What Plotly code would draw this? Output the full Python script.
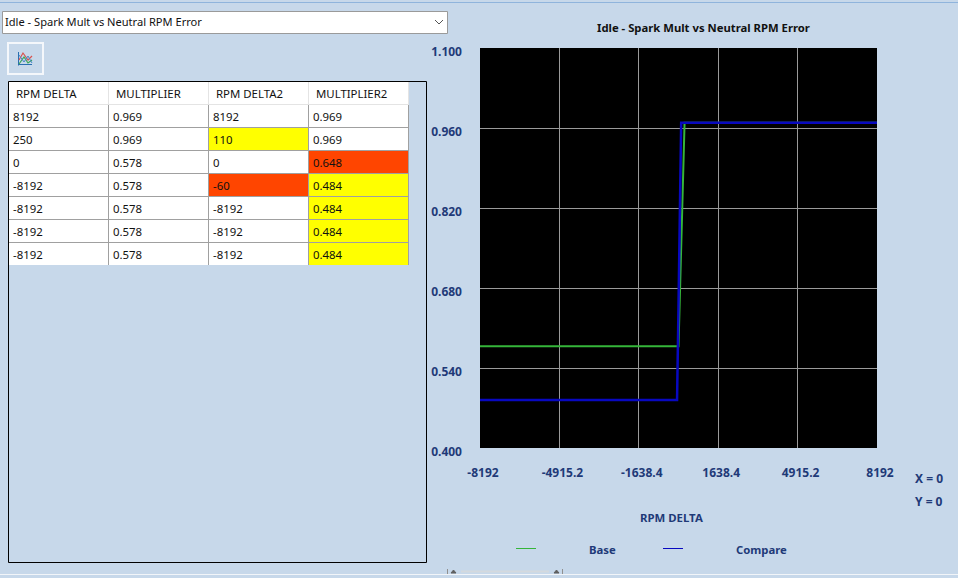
"""Idle spark multiplier table and chart, tuner window style."""

import plotly.graph_objects as go

W = 958
H = 578
BG = "#c7d8ea"
NAVY = "#1f3a78"
FONT = "Noto Sans"

TITLE = "Idle - Spark Mult vs Neutral RPM Error"

# table columns, as listed on screen
table_headers = ["RPM DELTA", "MULTIPLIER", "RPM DELTA2", "MULTIPLIER2"]
rpm_delta = ["8192", "250", "0", "-8192", "-8192", "-8192", "-8192"]
multiplier = ["0.969", "0.969", "0.578", "0.578", "0.578", "0.578", "0.578"]
rpm_delta2 = ["8192", "110", "0", "-60", "-8192", "-8192", "-8192"]
multiplier2 = ["0.969", "0.969", "0.648", "0.484", "0.484", "0.484", "0.484"]

# cell highlight per column
rpm_delta2_fill = ["white", "#ffff00", "white", "#ff4500", "white", "white", "white"]
multiplier2_fill = ["white", "white", "#ff4500", "#ffff00", "#ffff00", "#ffff00", "#ffff00"]

# chart series
base_x = [-8192, 0, 250, 8192]
base_y = [0.578, 0.578, 0.969, 0.969]
compare_x = [-8192, -60, 0, 110, 8192]
compare_y = [0.484, 0.484, 0.648, 0.969, 0.969]

x_ticks = [-8192, -4915.2, -1638.4, 1638.4, 4915.2, 8192]
y_ticks = [0.4, 0.54, 0.68, 0.82, 0.96, 1.1]


def px(x):
    return x / W


def py(y):
    return 1 - y / H


def box(x0, y0, x1, y1, layer="below", **kw):
    return dict(type="rect", xref="paper", yref="paper", x0=px(x0), x1=px(x1),
                y0=py(y1), y1=py(y0), layer=layer, **kw)


def seg(x0, y0, x1, y1, color, width=1):
    return dict(type="line", xref="paper", yref="paper", x0=px(x0), x1=px(x1),
                y0=py(y0), y1=py(y1), line=dict(color=color, width=width))


def poly(points, color, width=1, fill=None):
    path = "M " + " L ".join(f"{px(x)} {py(y)}" for x, y in points)
    if fill:
        path += " Z"
    return dict(type="path", xref="paper", yref="paper", path=path,
                line=dict(color=color, width=width), fillcolor=fill)


def label(x, y, text, size=12, color=NAVY, bold=True, anchor="left"):
    return dict(xref="paper", yref="paper", x=px(x), y=py(y), text=f"<b>{text}</b>" if bold else text,
                showarrow=False, xanchor=anchor, yanchor="middle",
                font=dict(family=FONT, size=size, color=color))


fig = go.Figure()

# the body text goes on as annotations, the table pads its cells too far in
fig.add_trace(go.Table(
    domain=dict(x=[px(8), px(408)], y=[py(265), py(81)]),
    columnwidth=[1, 1, 1, 1],
    header=dict(values=table_headers, height=23, align="left",
                fill_color="white", line=dict(color="#e4e4e4", width=1),
                font=dict(family=FONT, size=11.4, color="#111111")),
    cells=dict(values=[[""] * 7] * 4, height=23, align="left",
               fill_color=[["white"] * 7, ["white"] * 7, rpm_delta2_fill, multiplier2_fill],
               line=dict(color="#a0a0a0", width=1)),
))

fig.add_trace(go.Scatter(x=base_x, y=base_y, mode="lines", name="Base",
                         line=dict(color="#35b53a", width=2), showlegend=False))
fig.add_trace(go.Scatter(x=compare_x, y=compare_y, mode="lines", name="Compare",
                         line=dict(color="#0808c0", width=2.5), showlegend=False))

axis_font = dict(family=FONT, size=12, color=NAVY, weight="bold")

shapes = [
    seg(0, 2.5, W, 2.5, "#8fb4dc"),
    seg(0, 574.5, W, 574.5, "#f2f5f9"),
    # combo box
    box(2.5, 11.5, 447.5, 33.5, fillcolor="white", line=dict(color="#9a9a9a", width=1)),
    poly([(435, 20), (439, 24), (443, 20)], "#555555"),
    # toolbar button
    box(8, 43, 43, 74, fillcolor=BG, line=dict(color="#f4f7fb", width=2)),
    seg(18.5, 52, 18.5, 65.5, "#2a6fb0"),
    seg(18.5, 64.5, 32, 64.5, "#2a6fb0"),
    poly([(19, 60), (23, 53), (28, 60), (32, 56)], "#d9534f", 1.2),
    poly([(19, 64), (24, 57), (28, 63), (32, 60)], "#3aa655", 1.2),
    poly([(19, 55), (24, 62), (28, 56), (32, 63)], "#4a86c8", 1),
    # table frame, above so the table does not hide it
    box(8.5, 81.5, 426.5, 562.5, layer="above", line=dict(color="black", width=1)),
    # legend samples
    seg(516, 548.5, 536, 548.5, "#35b53a"),
    seg(663, 548.5, 683, 548.5, "#0808c0"),
    # bottom scroll bar
    seg(447.5, 569, 447.5, 574, "#909090"),
    seg(461, 571.5, 549, 571.5, "#d4d9de", 2),
    seg(562.5, 569, 562.5, 574, "#909090"),
    poly([(451, 573), (453.5, 570), (456, 573)], "#606060", 1, "#606060"),
    poly([(554, 573), (556.5, 570), (559, 573)], "#606060", 1, "#606060"),
]

annotations = [
    label(3, 21.5, TITLE, size=11.1, color="#111111", bold=False),
    label(703.5, 27, TITLE, size=11.3, color="#111111", anchor="center"),
    label(671.5, 517.5, "RPM DELTA", size=11.4, anchor="center"),
    label(587, 549.5, "Base", size=11.3),
    label(734, 549.5, "Compare", size=11.3),
    label(913, 478, "X = 0"),
    label(913, 501, "Y = 0"),
]

for col, values in enumerate([rpm_delta, multiplier, rpm_delta2, multiplier2]):
    for row, value in enumerate(values):
        annotations.append(label(10.5 + 100 * col, 116.5 + 23 * row, value, size=11.4,
                                 color="#111111", bold=False))

fig.update_layout(
    width=W, height=H,
    margin=dict(l=0, r=0, t=0, b=0),
    paper_bgcolor=BG,
    plot_bgcolor="black",
    showlegend=False,
    shapes=shapes,
    annotations=annotations,
    xaxis=dict(domain=[px(480), px(877)], range=[-8192, 8192], tickmode="array",
               tickvals=x_ticks, ticktext=["-8192", "-4915.2", "-1638.4", "1638.4", "4915.2", "8192"],
               showgrid=True, gridcolor="#9a9a9a", gridwidth=1, zeroline=False, ticks="",
               ticklabelstandoff=16, ticklabelshift=3, tickfont=axis_font, automargin=False),
    yaxis=dict(domain=[py(448), py(48)], range=[0.4, 1.1], tickmode="array",
               tickvals=y_ticks, ticktext=["0.400", "0.540", "0.680", "0.820", "0.960", "1.100"],
               showgrid=True, gridcolor="#9a9a9a", gridwidth=1, zeroline=False, ticks="",
               ticklabelstandoff=17, ticklabelshift=4, tickfont=axis_font, automargin=False),
)

fig.write_html("out.html", config=dict(displayModeBar=False),
               post_script="document.body.style.margin='0';")
